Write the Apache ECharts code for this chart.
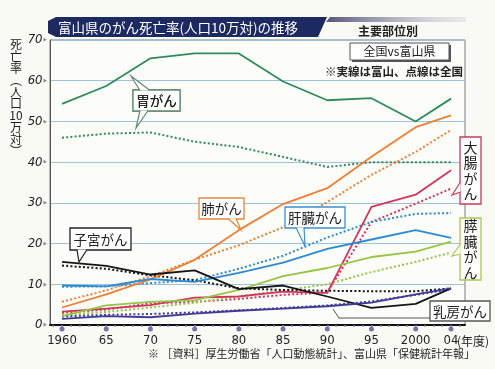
<!DOCTYPE html>
<html>
<head>
<meta charset="utf-8">
<script src="https://cdn.jsdelivr.net/npm/echarts@6/dist/echarts.min.js"></script>
<style>
html,body{margin:0;padding:0;background:#fafaf5;}
#c{width:495px;height:369px;}
</style>
</head>
<body>
<div id="c"></div>
<script>
// ---- data ----
const years = [1960, 1965, 1970, 1975, 1980, 1985, 1990, 1995, 2000, 2004];
const xTickValues = [1960, 1965, 1970, 1975, 1980, 1985, 1990, 1995, 2000, 2004];
const xTickLabels = ['1960', '65', '70', '75', '80', '85', '90', '95', '2000', '04'];
const yTickValues = [0, 10, 20, 30, 40, 50, 60, 70];

// Toyama (solid) and national (dotted)
const stomachToyama    = [54.3, 58.7, 65.5, 66.7, 66.7, 59.8, 55.2, 55.7, 50.0, 55.6];
const stomachNational  = [46.0, 47.0, 47.3, 45.0, 43.7, 41.3, 38.8, 40.0, 40.0, 40.0];
const lungToyama       = [4.3, 7.5, 11.2, 16.0, 23.3, 29.7, 33.6, 41.3, 48.6, 51.5];
const lungNational     = [5.7, 8.5, 12.0, 16.0, 19.6, 24.0, 30.2, 36.9, 42.5, 47.9];
const colonToyama      = [3.3, 4.0, 4.9, 6.7, 7.0, 8.2, 7.9, 29.0, 32.0, 38.0];
const colonNational    = [3.0, 3.8, 5.3, 5.7, 6.4, 7.4, 8.0, 25.3, 29.8, 33.5];
const liverToyama      = [9.7, 9.5, 11.3, 10.6, 12.8, 15.3, 18.7, 21.0, 23.3, 21.4];
const liverNational    = [9.4, 9.5, 10.3, 11.0, 13.8, 17.0, 21.5, 25.3, 27.3, 27.5];
const pancreasToyama   = [2.2, 4.8, 5.7, 6.1, 8.6, 12.0, 14.0, 16.7, 18.0, 20.5];
const pancreasNational = [2.5, 3.2, 4.3, 5.5, 7.0, 8.5, 10.0, 13.0, 15.5, 17.8];
const uterusToyama     = [15.5, 14.5, 12.4, 13.4, 8.8, 9.7, 7.0, 4.2, 5.2, 9.0];
const uterusNational   = [14.6, 13.8, 12.2, 11.0, 9.0, 8.6, 8.4, 8.3, 8.3, 9.0];
const breastToyama     = [1.5, 2.2, 1.9, 2.8, 3.5, 4.0, 4.6, 5.5, 7.5, 9.0];
const breastNational   = [2.1, 2.5, 2.7, 3.1, 3.6, 4.2, 4.8, 5.8, 7.4, 8.8];

// ---- styling ----
const C = {
  stomach: '#2f8a60', lung: '#ee7f34', colon: '#d3345c', liver: '#2b8bd2',
  pancreas: '#93c647', uterus: '#151515', breast: '#3f3a98'
};
const sets = [
  ['胃がん(富山)', stomachToyama, C.stomach, false],
  ['胃がん(全国)', stomachNational, C.stomach, true],
  ['肺がん(富山)', lungToyama, C.lung, false],
  ['肺がん(全国)', lungNational, C.lung, true],
  ['大腸がん(富山)', colonToyama, C.colon, false],
  ['大腸がん(全国)', colonNational, C.colon, true],
  ['肝臓がん(富山)', liverToyama, C.liver, false],
  ['肝臓がん(全国)', liverNational, C.liver, true],
  ['膵臓がん(富山)', pancreasToyama, C.pancreas, false],
  ['膵臓がん(全国)', pancreasNational, C.pancreas, true],
  ['子宮がん(富山)', uterusToyama, C.uterus, false],
  ['子宮がん(全国)', uterusNational, C.uterus, true],
  ['乳房がん(富山)', breastToyama, C.breast, false],
  ['乳房がん(全国)', breastNational, C.breast, true]
];

const series = sets.map(([name, vals, color, dotted]) => ({
  name, type: 'line', silent: true, symbol: 'none',
  data: years.map((y, i) => [y, vals[i]]),
  lineStyle: { color, width: dotted ? 2 : 1.8, type: dotted ? [2, 2.2] : 'solid' },
  z: dotted ? 3 : 4
}));

// major tick dots under the axis
series.push({
  type: 'scatter', silent: true, clip: false, symbolSize: 5, symbolOffset: [0, 4],
  itemStyle: { color: '#5b4f9c' },
  data: xTickValues.map(v => [v, 0]), z: 6
});

const minorTicks = [];
for (let y = 1959; y <= 2005; y++) minorTicks.push(y);

const NUM_FONT = "'Liberation Sans Narrow','DejaVu Sans Condensed',sans-serif";
const JP_FONT = "'Noto Sans CJK JP',sans-serif";

function callout(x, y, w, h, text, color, base, tip, vertical) {
  const els = [];
  els.push({ type: 'rect', shape: { x, y, width: w, height: h }, style: { fill: '#fff', stroke: color, lineWidth: 1.3 }, z: 20 });
  if (base) {
    els.push({ type: 'polygon', shape: { points: [base[0], tip, base[1]] }, style: { fill: '#fff', stroke: null }, z: 21 });
    els.push({ type: 'polyline', shape: { points: [base[0], tip, base[1]] }, style: { stroke: color, lineWidth: 1.2, fill: null }, z: 22 });
  }
  els.push({
    type: 'text', x: x + w / 2, y: y + h / 2 + (vertical ? 0 : 0.5), z: 23,
    style: {
      text: vertical ? text.split('').join('\n') : text,
      fontSize: vertical ? 14 : 13.5, lineHeight: vertical ? 15.5 : 16,
      fontFamily: JP_FONT, fill: '#222', align: 'center', verticalAlign: 'middle'
    }
  });
  return els;
}

const graphics = [
  // title banner
  { type: 'polygon', shape: { points: [[330, 17], [466, 17], [466, 22], [326, 22]] },
    style: { fill: new echarts.graphic.LinearGradient(0, 0, 1, 0, [{ offset: 0, color: '#55557a' }, { offset: 1, color: 'rgba(200,200,215,0.3)' }]) }, z: 10 },
  { type: 'polygon', shape: { points: [[56, 17], [327, 17], [318, 37], [56, 37], [48, 33], [48, 21]] }, style: { fill: '#1d2a62' }, z: 11 },
  { type: 'text', x: 58, y: 27.5, z: 12, style: { text: '富山県のがん死亡率(人口10万対)の推移', fontSize: 13.5, fontFamily: JP_FONT, fill: '#fff', verticalAlign: 'middle' } },
  { type: 'text', x: 358, y: 31, z: 12, style: { text: '主要部位別', fontSize: 12, fontWeight: 'bold', fontFamily: JP_FONT, fill: '#222', verticalAlign: 'middle' } },
  // legend box
  { type: 'rect', shape: { x: 352, y: 45, width: 99, height: 17 }, style: { fill: '#555' }, z: 19 },
  { type: 'rect', shape: { x: 350, y: 43, width: 99, height: 17 }, style: { fill: '#fff', stroke: '#555', lineWidth: 1 }, z: 20 },
  { type: 'text', x: 399.5, y: 51.5, z: 21, style: { text: '全国vs富山県', fontSize: 12, fontFamily: JP_FONT, fill: '#222', align: 'center', verticalAlign: 'middle' } },
  { type: 'text', x: 394, y: 72, z: 21, style: { text: '※実線は富山、点線は全国', fontSize: 11.5, fontWeight: 'bold', fontFamily: JP_FONT, fill: '#222', align: 'center', verticalAlign: 'middle' } },
  // y axis name (vertical)
  { type: 'text', x: 16, y: 98, z: 21, style: { text: '死\n亡\n率\n︵\n人\n口\n10\n万\n対\n︶', fontSize: 12, lineHeight: 11.8, fontFamily: JP_FONT, fill: '#222', align: 'center', verticalAlign: 'middle' } },
  // x unit
  { type: 'text', x: 457, y: 341, z: 21, style: { text: '(年度)', fontSize: 12, fontFamily: JP_FONT, fill: '#222', verticalAlign: 'middle' } },
  // source
  { type: 'text', x: 148, y: 354, z: 21, style: { text: '※ ［資料］厚生労働省「人口動態統計」、富山県「保健統計年報」', fontSize: 11, fontFamily: JP_FONT, fill: '#222', verticalAlign: 'middle' } },
  // breast pointer
  { type: 'polyline', shape: { points: [[430, 318], [339, 318], [333, 309]] }, style: { stroke: '#555', lineWidth: 1, fill: null }, z: 19 }
];
graphics.push(...callout(133, 90, 47, 21, '胃がん', '#5f8a72', [[140, 90.5], [150, 90.5]], [131, 76]));
graphics.push(...callout(133, 90, 47, 21, '胃がん', '#5f8a72', [[140, 110.5], [148, 110.5]], [136, 128]));
graphics.push(...callout(199, 198, 45, 21, '肺がん', '#e8863a', [[228, 218.5], [236, 218.5]], [241, 230]));
graphics.push(...callout(285, 207, 60, 21, '肝臓がん', '#3d8fd0', [[296, 227.5], [304, 227.5]], [305, 246]));
graphics.push(...callout(70, 228, 61, 22, '子宮がん', '#222', [[77, 249.5], [87, 249.5]], [79, 262]));
graphics.push(...callout(460, 137, 21, 67, '大腸がん', '#c83a5a', [[460.5, 182], [460.5, 192]], [452, 195], true));
graphics.push(...callout(460, 218, 21, 62, '膵臓がん', '#a8c850', [[460.5, 244], [460.5, 254]], [452, 256], true));
graphics.push(...callout(430, 301, 60, 20, '乳房がん', '#555', null, null));

const chart = echarts.init(document.getElementById('c'), null, { renderer: 'canvas' });
chart.setOption({
  backgroundColor: '#fafaf5',
  animation: false,
  grid: { left: 50, right: 30, top: 40, bottom: 44, show: true, borderColor: '#7a7a7a', borderWidth: 1, backgroundColor: '#fcfcf8' },
  xAxis: {
    type: 'value', min: 1958.64, max: 2005.58,
    axisLine: { show: true, onZero: false, lineStyle: { color: '#111', width: 2 } },
    axisTick: { show: true, customValues: minorTicks, length: 2, lineStyle: { color: '#8a82b8', width: 1.5 } },
    splitLine: { show: false },
    axisLabel: {
      customValues: xTickValues, margin: 9, color: '#222', fontSize: 13, fontFamily: NUM_FONT,
      formatter: v => xTickLabels[xTickValues.indexOf(Math.round(v))] || ''
    }
  },
  yAxis: {
    type: 'value', min: 0, max: 70, interval: 10,
    axisLine: { show: true, lineStyle: { color: '#555', width: 1 } },
    axisTick: { show: false },
    splitLine: { show: true, lineStyle: { color: '#9fc2dc', width: 1 } },
    axisLabel: {
      margin: 3, fontFamily: NUM_FONT,
      formatter: v => yTickValues.includes(v) ? `{n|${v}}{t|▶}` : '',
      rich: { n: { fontSize: 13, color: '#222', fontStyle: 'italic', fontFamily: NUM_FONT }, t: { fontSize: 5, color: '#888', padding: [0, 0, 0, 1] } }
    }
  },
  series,
  graphic: graphics
});
</script>
</body>
</html>
